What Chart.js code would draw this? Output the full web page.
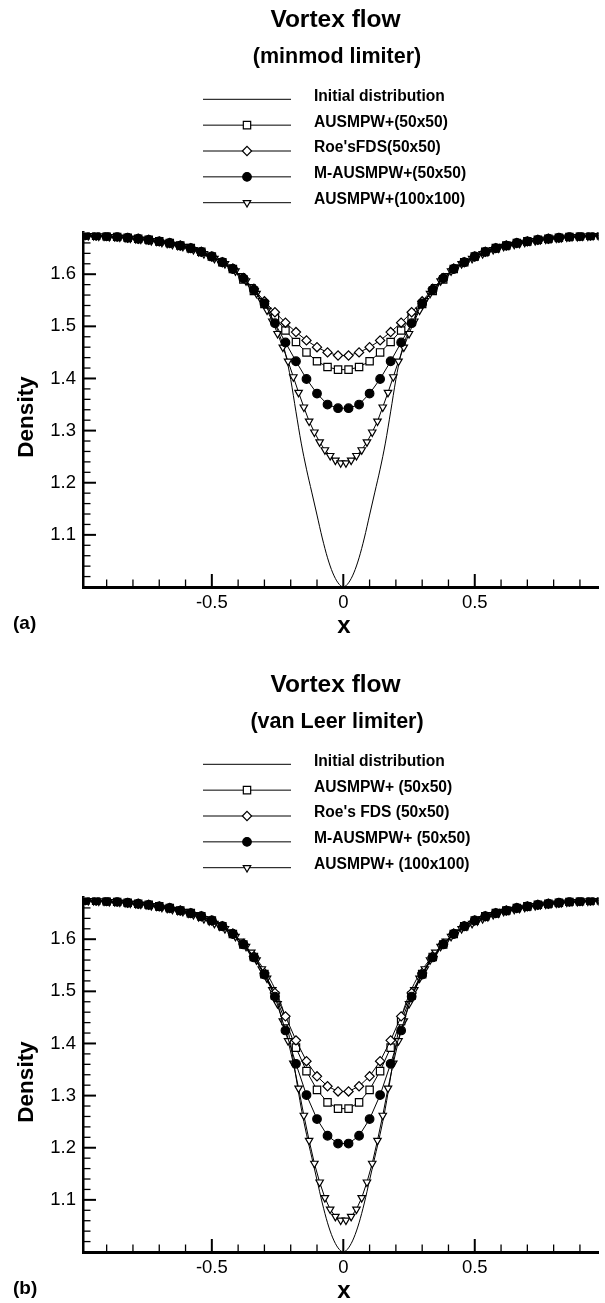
<!DOCTYPE html>
<html>
<head>
<meta charset="utf-8">
<title>Vortex flow</title>
<script src="https://cdn.jsdelivr.net/npm/chart.js@4.4.1/dist/chart.umd.min.js"></script>
<style>
    html, body { margin: 0; padding: 0; background: #fff; overflow: hidden; }
    canvas { position: absolute; left: 0; }
    #chartA { top: 0; }
    #chartB { top: 665px; }
</style>
</head>
<body>
<canvas id="chartA" width="605" height="665"></canvas>
<canvas id="chartB" width="605" height="665"></canvas>
<script>
// cell centres of the two meshes
const x50 = [-0.98, -0.94, -0.90, -0.86, -0.82, -0.78, -0.74, -0.70, -0.66, -0.62, -0.58, -0.54, -0.50,
    -0.46, -0.42, -0.38, -0.34, -0.30, -0.26, -0.22, -0.18, -0.14, -0.10, -0.06, -0.02,
    0.02, 0.06, 0.10, 0.14, 0.18, 0.22, 0.26, 0.30, 0.34, 0.38, 0.42, 0.46, 0.50,
    0.54, 0.58, 0.62, 0.66, 0.70, 0.74, 0.78, 0.82, 0.86, 0.90, 0.94, 0.98];
const x100 = [-0.99, -0.97, -0.95, -0.93, -0.91, -0.89, -0.87, -0.85, -0.83, -0.81, -0.79, -0.77, -0.75,
    -0.73, -0.71, -0.69, -0.67, -0.65, -0.63, -0.61, -0.59, -0.57, -0.55, -0.53, -0.51,
    -0.49, -0.47, -0.45, -0.43, -0.41, -0.39, -0.37, -0.35, -0.33, -0.31, -0.29, -0.27,
    -0.25, -0.23, -0.21, -0.19, -0.17, -0.15, -0.13, -0.11, -0.09, -0.07, -0.05, -0.03, -0.01,
    0.01, 0.03, 0.05, 0.07, 0.09, 0.11, 0.13, 0.15, 0.17, 0.19, 0.21, 0.23, 0.25,
    0.27, 0.29, 0.31, 0.33, 0.35, 0.37, 0.39, 0.41, 0.43, 0.45, 0.47, 0.49,
    0.51, 0.53, 0.55, 0.57, 0.59, 0.61, 0.63, 0.65, 0.67, 0.69, 0.71, 0.73, 0.75,
    0.77, 0.79, 0.81, 0.83, 0.85, 0.87, 0.89, 0.91, 0.93, 0.95, 0.97, 0.99];

// initial distribution (exact solution)
const xInit = [-0.99, -0.9, -0.8, -0.7, -0.6, -0.5, -0.45, -0.4, -0.35, -0.3, -0.27, -0.24, -0.22, -0.2,
    -0.18, -0.16, -0.14, -0.12, -0.1, -0.08, -0.06, -0.04, -0.02, 0, 0.02, 0.04, 0.06, 0.08, 0.1,
    0.12, 0.14, 0.16, 0.18, 0.2, 0.22, 0.24, 0.27, 0.3, 0.35, 0.4, 0.45, 0.5, 0.6, 0.7, 0.8, 0.9, 0.99];
const rhoInit = [1.675, 1.673, 1.669, 1.663, 1.651, 1.633, 1.620, 1.601, 1.574, 1.541, 1.515, 1.480, 1.448, 1.398,
    1.336, 1.276, 1.226, 1.182, 1.138, 1.094, 1.056, 1.027, 1.008, 1.000, 1.008, 1.027, 1.056, 1.094, 1.138,
    1.182, 1.226, 1.276, 1.336, 1.398, 1.448, 1.480, 1.515, 1.541, 1.574, 1.601, 1.620, 1.633, 1.651, 1.663, 1.669, 1.673, 1.675];

// (a) minmod limiter
const minmodAusmpw50 = [1.675, 1.674, 1.673, 1.672, 1.670, 1.668, 1.666, 1.663, 1.660, 1.655, 1.650, 1.643, 1.634,
    1.623, 1.610, 1.590, 1.568, 1.543, 1.517, 1.492, 1.470, 1.450, 1.433, 1.422, 1.417,
    1.417, 1.422, 1.433, 1.450, 1.470, 1.492, 1.517, 1.543, 1.568, 1.590, 1.610, 1.623, 1.634,
    1.643, 1.650, 1.655, 1.660, 1.663, 1.666, 1.668, 1.670, 1.672, 1.673, 1.674, 1.675];
const minmodRoe50 = [1.675, 1.674, 1.673, 1.672, 1.670, 1.668, 1.666, 1.663, 1.660, 1.655, 1.650, 1.643, 1.634,
    1.623, 1.611, 1.593, 1.572, 1.548, 1.527, 1.507, 1.489, 1.473, 1.460, 1.450, 1.444,
    1.444, 1.450, 1.460, 1.473, 1.489, 1.507, 1.527, 1.548, 1.572, 1.593, 1.611, 1.623, 1.634,
    1.643, 1.650, 1.655, 1.660, 1.663, 1.666, 1.668, 1.670, 1.672, 1.673, 1.674, 1.675];
const minmodMAusmpw50 = [1.675, 1.674, 1.673, 1.672, 1.670, 1.668, 1.666, 1.663, 1.660, 1.655, 1.650, 1.643, 1.634,
    1.623, 1.610, 1.592, 1.570, 1.544, 1.506, 1.469, 1.433, 1.399, 1.371, 1.350, 1.343,
    1.343, 1.350, 1.371, 1.399, 1.433, 1.469, 1.506, 1.544, 1.570, 1.592, 1.610, 1.623, 1.634,
    1.643, 1.650, 1.655, 1.660, 1.663, 1.666, 1.668, 1.670, 1.672, 1.673, 1.674, 1.675];
const minmodAusmpw100 = [1.675, 1.674, 1.674, 1.673, 1.673, 1.672, 1.672, 1.671, 1.670, 1.669, 1.668, 1.667, 1.666,
    1.664, 1.663, 1.661, 1.659, 1.657, 1.655, 1.653, 1.650, 1.647, 1.643, 1.639, 1.635,
    1.630, 1.625, 1.620, 1.614, 1.606, 1.597, 1.587, 1.576, 1.563, 1.549, 1.531, 1.510,
    1.486, 1.460, 1.433, 1.403, 1.373, 1.345, 1.318, 1.297, 1.278, 1.263, 1.252, 1.243, 1.238,
    1.238, 1.243, 1.252, 1.263, 1.278, 1.297, 1.318, 1.345, 1.373, 1.403, 1.433, 1.460, 1.486,
    1.510, 1.531, 1.549, 1.563, 1.576, 1.587, 1.597, 1.606, 1.614, 1.620, 1.625, 1.630,
    1.635, 1.639, 1.643, 1.647, 1.650, 1.653, 1.655, 1.657, 1.659, 1.661, 1.663, 1.664, 1.666,
    1.667, 1.668, 1.669, 1.670, 1.671, 1.672, 1.672, 1.673, 1.673, 1.674, 1.674, 1.675];

// (b) van Leer limiter
const vanleerAusmpw50 = [1.675, 1.674, 1.673, 1.672, 1.670, 1.668, 1.666, 1.663, 1.660, 1.655, 1.650, 1.644, 1.636,
    1.625, 1.610, 1.590, 1.566, 1.533, 1.492, 1.443, 1.392, 1.347, 1.311, 1.287, 1.275,
    1.275, 1.287, 1.311, 1.347, 1.392, 1.443, 1.492, 1.533, 1.566, 1.590, 1.610, 1.625, 1.636,
    1.644, 1.650, 1.655, 1.660, 1.663, 1.666, 1.668, 1.670, 1.672, 1.673, 1.674, 1.675];
const vanleerRoe50 = [1.675, 1.674, 1.673, 1.672, 1.670, 1.668, 1.666, 1.663, 1.660, 1.655, 1.650, 1.644, 1.636,
    1.625, 1.611, 1.591, 1.567, 1.535, 1.497, 1.452, 1.406, 1.366, 1.337, 1.318, 1.308,
    1.308, 1.318, 1.337, 1.366, 1.406, 1.452, 1.497, 1.535, 1.567, 1.591, 1.611, 1.625, 1.636,
    1.644, 1.650, 1.655, 1.660, 1.663, 1.666, 1.668, 1.670, 1.672, 1.673, 1.674, 1.675];
const vanleerMAusmpw50 = [1.675, 1.674, 1.673, 1.672, 1.670, 1.668, 1.666, 1.663, 1.660, 1.655, 1.650, 1.644, 1.636,
    1.625, 1.610, 1.590, 1.565, 1.532, 1.490, 1.425, 1.361, 1.301, 1.255, 1.223, 1.208,
    1.208, 1.223, 1.255, 1.301, 1.361, 1.425, 1.490, 1.532, 1.565, 1.590, 1.610, 1.625, 1.636,
    1.644, 1.650, 1.655, 1.660, 1.663, 1.666, 1.668, 1.670, 1.672, 1.673, 1.674, 1.675];
const vanleerAusmpw100 = [1.675, 1.674, 1.674, 1.673, 1.673, 1.672, 1.672, 1.671, 1.670, 1.669, 1.668, 1.667, 1.666,
    1.664, 1.663, 1.661, 1.659, 1.657, 1.655, 1.653, 1.650, 1.647, 1.643, 1.639, 1.635,
    1.630, 1.625, 1.620, 1.614, 1.605, 1.596, 1.586, 1.575, 1.560, 1.543, 1.525, 1.503,
    1.476, 1.443, 1.405, 1.362, 1.314, 1.262, 1.214, 1.170, 1.134, 1.104, 1.082, 1.068, 1.061,
    1.061, 1.068, 1.082, 1.104, 1.134, 1.170, 1.214, 1.262, 1.314, 1.362, 1.405, 1.443, 1.476,
    1.503, 1.525, 1.543, 1.560, 1.575, 1.586, 1.596, 1.605, 1.614, 1.620, 1.625, 1.630,
    1.635, 1.639, 1.643, 1.647, 1.650, 1.653, 1.655, 1.657, 1.659, 1.661, 1.663, 1.664, 1.666,
    1.667, 1.668, 1.669, 1.670, 1.671, 1.672, 1.672, 1.673, 1.673, 1.674, 1.674, 1.675];

const xTickValues = [-0.5, 0, 0.5];
const xTickLabels = ['-0.5', '0', '0.5'];
const yTickValues = [1.1, 1.2, 1.3, 1.4, 1.5, 1.6];
const yTickLabels = ['1.1', '1.2', '1.3', '1.4', '1.5', '1.6'];

const FONT = '"Liberation Sans", Arial, Helvetica, sans-serif';
const pts = (xs, ys) => xs.map((x, i) => ({ x: x, y: ys[i] }));

// titles, legend, inward tick marks and axis labels
const panelDecor = {
    id: 'panelDecor',
    afterDraw(chart, args, opts) {
        const { ctx, chartArea, scales: { x, y } } = chart;
        ctx.save();
        ctx.fillStyle = '#000';
        ctx.strokeStyle = '#000';

        ctx.textAlign = 'center';
        ctx.textBaseline = 'alphabetic';
        ctx.font = `bold 24.5px ${FONT}`;
        ctx.fillText(opts.title, 335.5, 26.7);
        ctx.font = `bold 21.5px ${FONT}`;
        ctx.fillText(opts.subtitle, 337, 62.5);

        // legend
        ctx.textAlign = 'left';
        ctx.font = `bold 15.6px ${FONT}`;
        chart.data.datasets.forEach((ds, i) => {
            const ly = 99.3 + i * 25.85;
            ctx.lineWidth = 1;
            ctx.strokeStyle = '#000';
            ctx.beginPath();
            ctx.moveTo(203, ly);
            ctx.lineTo(291, ly);
            ctx.stroke();
            if (ds.pointRadius > 0) {
                ctx.fillStyle = ds.pointBackgroundColor;
                ctx.lineWidth = ds.pointBorderWidth;
                Chart.helpers.drawPoint(ctx, {
                    pointStyle: ds.pointStyle,
                    radius: ds.pointRadius,
                    rotation: ds.pointRotation || 0,
                    borderWidth: ds.pointBorderWidth
                }, 247, ly);
            }
            ctx.fillStyle = '#000';
            ctx.fillText(ds.label, 314, ly + 1.4);
        });

        // tick marks pointing into the plot
        const tick = (x1, y1, x2, y2, w) => {
            ctx.lineWidth = w;
            ctx.beginPath();
            ctx.moveTo(x1, y1);
            ctx.lineTo(x2, y2);
            ctx.stroke();
        };
        for (let k = -9; k <= 9; k++) {
            const px = x.getPixelForValue(k / 10);
            const major = k % 5 === 0;
            tick(px, chartArea.bottom, px, chartArea.bottom - (major ? 13 : 7.5), major ? 2 : 1.3);
        }
        for (let k = 51; k <= 83; k++) {
            const py = y.getPixelForValue(k * 0.02);
            const major = k % 5 === 0;
            tick(chartArea.left, py, chartArea.left + (major ? 13 : 7.5), py, major ? 2 : 1.3);
        }

        // axis titles and panel tag
        ctx.textAlign = 'center';
        ctx.font = `bold 24px ${FONT}`;
        ctx.fillText('x', 344, 632.5);
        ctx.textAlign = 'left';
        ctx.font = `bold 19px ${FONT}`;
        ctx.fillText(opts.tag, 13, 629);
        ctx.save();
        ctx.translate(32.5, 417);
        ctx.rotate(-Math.PI / 2);
        ctx.textAlign = 'center';
        ctx.font = `bold 22.5px ${FONT}`;
        ctx.fillText('Density', 0, 0);
        ctx.restore();

        ctx.restore();
    }
};

function makePanel(canvasId, texts, labels, series) {
    const marker = (style, radius, fill, order, rotation) => ({
        showLine: true,
        order: order,
        borderColor: '#000',
        borderWidth: 1,
        tension: 0,
        pointStyle: style,
        pointRadius: radius,
        pointRotation: rotation || 0,
        pointBackgroundColor: fill,
        pointBorderColor: '#000',
        pointBorderWidth: 1.2,
        pointHoverRadius: radius
    });

    new Chart(document.getElementById(canvasId), {
        type: 'line',
        data: {
            datasets: [
                {
                    label: labels[0],
                    data: pts(xInit, rhoInit),
                    order: 4,
                    borderColor: '#000',
                    borderWidth: 1,
                    pointRadius: 0,
                    cubicInterpolationMode: 'monotone'
                },
                // circles last in drawing order so they sit on top, as in the original
                { label: labels[1], data: pts(x50, series[0]), ...marker('rect', 5.2, '#fff', 2) },
                { label: labels[2], data: pts(x50, series[1]), ...marker('rectRot', 4.6, '#fff', 1) },
                { label: labels[3], data: pts(x50, series[2]), ...marker('circle', 4.3, '#000', 0) },
                { label: labels[4], data: pts(x100, series[3]), ...marker('triangle', 4.3, '#fff', 3, 180) }
            ]
        },
        options: {
            responsive: false,
            animation: false,
            events: [],
            layout: { padding: { top: 232.5, right: 0, bottom: 0, left: 0 } },
            plugins: {
                legend: { display: false },
                tooltip: { enabled: false },
                panelDecor: texts
            },
            scales: {
                x: {
                    type: 'linear',
                    min: -0.99,
                    max: 0.971,
                    afterFit: (scale) => { scale.height = 78; },
                    afterBuildTicks: (scale) => { scale.ticks = xTickValues.map(v => ({ value: v })); },
                    grid: { display: false, drawTicks: false },
                    border: { display: true, color: '#000', width: 3 },
                    ticks: {
                        color: '#000',
                        padding: 5,
                        maxRotation: 0,
                        font: { family: FONT, size: 18.5 },
                        callback: (value, index) => xTickLabels[index]
                    }
                },
                y: {
                    type: 'linear',
                    min: 1.0,
                    max: 1.68,
                    afterFit: (scale) => { scale.width = 83; },
                    afterBuildTicks: (scale) => { scale.ticks = yTickValues.map(v => ({ value: v })); },
                    grid: { display: false, drawTicks: false },
                    border: { display: true, color: '#000', width: 2.5 },
                    ticks: {
                        color: '#000',
                        padding: 7,
                        font: { family: FONT, size: 18.5 },
                        callback: (value, index) => yTickLabels[index]
                    }
                }
            }
        },
        plugins: [panelDecor]
    });
}

makePanel('chartA',
    { title: 'Vortex flow', subtitle: '(minmod limiter)', tag: '(a)' },
    ['Initial distribution', 'AUSMPW+(50x50)', "Roe'sFDS(50x50)", 'M-AUSMPW+(50x50)', 'AUSMPW+(100x100)'],
    [minmodAusmpw50, minmodRoe50, minmodMAusmpw50, minmodAusmpw100]);

makePanel('chartB',
    { title: 'Vortex flow', subtitle: '(van Leer limiter)', tag: '(b)' },
    ['Initial distribution', 'AUSMPW+ (50x50)', "Roe's FDS (50x50)", 'M-AUSMPW+ (50x50)', 'AUSMPW+ (100x100)'],
    [vanleerAusmpw50, vanleerRoe50, vanleerMAusmpw50, vanleerAusmpw100]);
</script>
</body>
</html>
